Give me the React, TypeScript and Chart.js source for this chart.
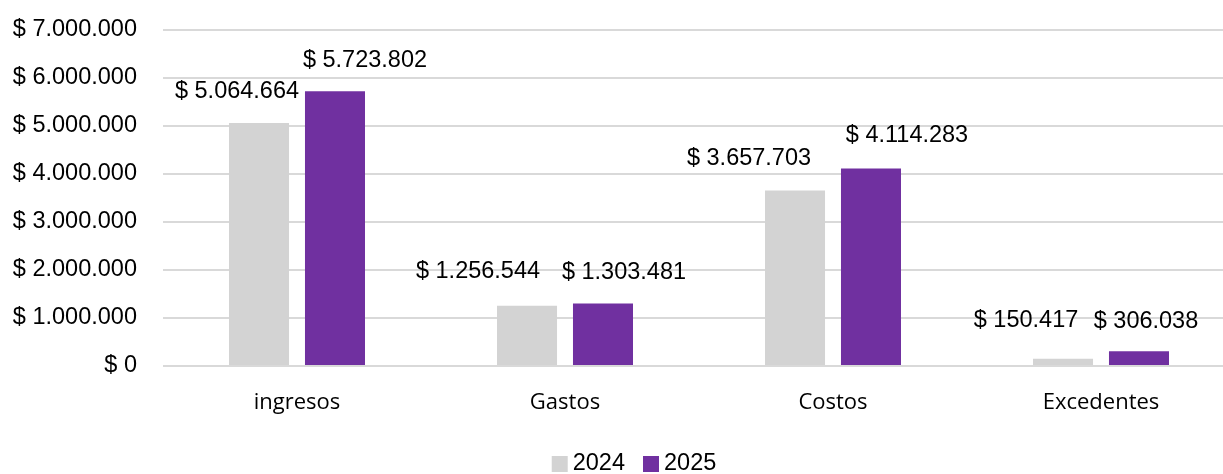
import React, { useEffect, useRef } from "react";
import { Chart, registerables } from "chart.js";

Chart.register(...registerables);

const categories = ["ingresos", "Gastos", "Costos", "Excedentes"];
const series2024 = [5064664, 1256544, 3657703, 150417];
const series2025 = [5723802, 1303481, 4114283, 306038];
const seriesNames = ["2024", "2025"];
const yMax = 7000000;
const yStep = 1000000;

// label offsets relative to each bar top (styling only)
const labelOffsets = [
  [[-22, -31], [-49, -34], [-46, -32], [-37, -38]],
  [[30, -31], [21, -31], [36, -33], [7, -30]],
];

const COLORS = ["#d3d3d3", "#7030a0"];
const TEXT = "#000000";
const NUM_FONT = "'Liberation Sans', Arial, sans-serif";

const fmt = (n: number) => "$ " + Math.round(n).toString().replace(/\B(?=(\d{3})+(?!\d))/g, ".");

const labelPlugin = {
  id: "barLabels",
  afterDatasetsDraw(chart: any) {
    const ctx = chart.ctx;
    ctx.save();
    ctx.font = `23.5px ${NUM_FONT}`;
    ctx.fillStyle = TEXT;
    ctx.textAlign = "center";
    ctx.textBaseline = "middle";
    chart.data.datasets.forEach((ds: any, di: number) => {
      const meta = chart.getDatasetMeta(di);
      meta.data.forEach((el: any, i: number) => {
        const [dx, dy] = labelOffsets[di][i];
        ctx.fillText(fmt(ds.data[i]), el.x + dx, el.y + dy);
      });
    });
    ctx.restore();
  },
};

const legendPlugin = {
  id: "customLegend",
  afterDraw(chart: any) {
    const ctx = chart.ctx;
    ctx.save();
    ctx.font = `23.5px ${NUM_FONT}`;
    ctx.textBaseline = "middle";
    ctx.textAlign = "left";
    const box = 16;
    const gapText = 5;
    const gapItem = 18;
    const items = chart.data.datasets.map((ds: any) => ({
      label: ds.label,
      color: ds.backgroundColor,
      w: box + gapText + ctx.measureText(ds.label).width,
    }));
    const total = items.reduce((s: number, it: any) => s + it.w, 0) + gapItem * (items.length - 1);
    let x = 634 - total / 2;
    const cy = 464;
    items.forEach((it: any) => {
      ctx.fillStyle = it.color;
      ctx.fillRect(x, cy - box / 2, box, box);
      ctx.fillStyle = TEXT;
      ctx.fillText(it.label, x + box + gapText, cy);
      x += it.w + gapItem;
    });
    ctx.restore();
  },
};

export default function App() {
  const ref = useRef<HTMLCanvasElement | null>(null);
  useEffect(() => {
    if (!ref.current) return;
    const chart = new Chart(ref.current, {
      type: "bar",
      data: {
        labels: categories,
        datasets: [
          { label: seriesNames[0], data: series2024, backgroundColor: COLORS[0], categoryPercentage: 0.567, barPercentage: 0.79 },
          { label: seriesNames[1], data: series2025, backgroundColor: COLORS[1], categoryPercentage: 0.567, barPercentage: 0.79 },
        ],
      },
      options: {
        animation: false,
        responsive: false,
        maintainAspectRatio: false,
        layout: { padding: { top: 30, right: 5, bottom: 48, left: 0 } },
        plugins: { legend: { display: false }, tooltip: { enabled: false } },
        scales: {
          x: {
            grid: { display: false, drawTicks: false },
            border: { display: false },
            ticks: { color: TEXT, font: { family: "'Open Sans', sans-serif", size: 22 }, padding: 24 },
            afterFit: (s: any) => { s.height = 60; },
          },
          y: {
            min: 0,
            max: yMax,
            grid: { color: "#d9d9d9", lineWidth: 2, drawTicks: false },
            border: { display: false },
            ticks: {
              stepSize: yStep,
              color: TEXT,
              font: { family: NUM_FONT, size: 23.5 },
              padding: 26,
              callback: (v: any) => fmt(Number(v)),
            },
            afterFit: (s: any) => { s.width = 163; s.paddingTop = 0; s.paddingBottom = 0; },
          },
        },
      },
      plugins: [labelPlugin, legendPlugin],
    });
    return () => chart.destroy();
  }, []);
  return (
    <div style={{ position: "absolute", left: 0, top: 0, width: 1223, height: 474, overflow: "hidden", background: "#fff" }}>
      <canvas ref={ref} width={1240} height={474} style={{ display: "block" }} />
    </div>
  );
}
